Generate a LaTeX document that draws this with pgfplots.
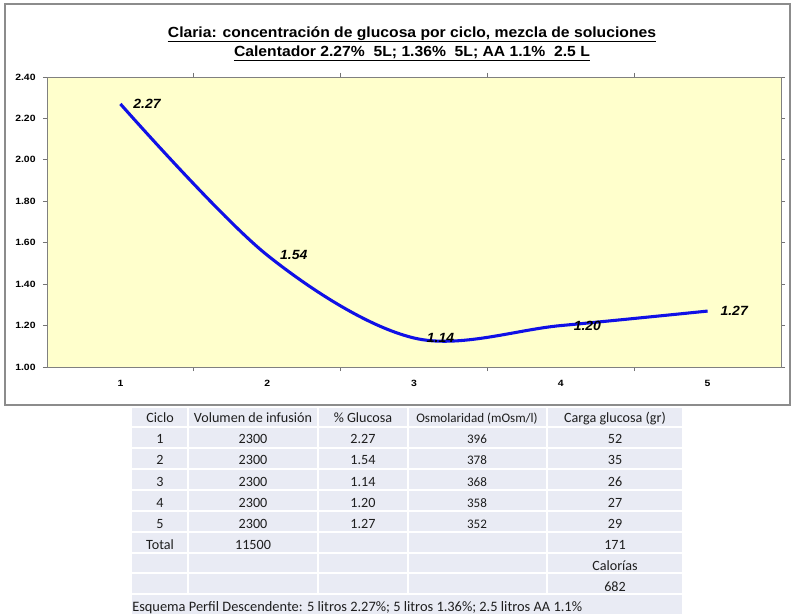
\documentclass[border=0pt]{standalone}
\usepackage{pgfplots}
\pgfplotsset{compat=1.18}
\usepackage{fontspec}
\setmainfont{Liberation Sans}
\newfontfamily\calib{Carlito}
\definecolor{plotbg}{HTML}{FFFFCC}
\definecolor{cellbg}{HTML}{E9EBF4}
\definecolor{lineblue}{HTML}{1010E6}
\definecolor{txt}{HTML}{1E1E1E}
\begin{document}
\begin{tikzpicture}
\begin{scope}[x=0.75pt,y=-0.75pt]
\path[use as bounding box, fill=white] (0,0) rectangle (795,616);
\draw[black!45, line width=0.8pt] (5,4) rectangle (790,405);
\coordinate (ax) at (47,367);
% title
\node[inner sep=0pt, anchor=base, font=\bfseries\fontsize{11}{13}\selectfont, xscale=1.07] (t1) at (412,38) {Claria: concentración de glucosa por ciclo, mezcla de soluciones};
\node[inner sep=0pt, anchor=base, font=\bfseries\fontsize{11}{13}\selectfont, xscale=1.07] (t2) at (412,57) {Calentador 2.27\%\ \ 5L; 1.36\%\ \ 5L; AA 1.1\%\ \ 2.5 L};
\draw[line width=0.7pt] ([yshift=-2.5pt]t1.base west) -- ([yshift=-2.5pt]t1.base east);
\draw[line width=0.7pt] ([yshift=-2.5pt]t2.base west) -- ([yshift=-2.5pt]t2.base east);
\end{scope}
\begin{axis}[
  at={(ax)}, anchor=south west, scale only axis,
  width=550.5pt, height=217.5pt,
  xmin=0.5, xmax=5.5, ymin=1, ymax=2.4,
  ytick={1,1.2,1.4,1.6,1.8,2.0,2.2,2.4},
  xtick={1,2,3,4,5},
  minor xtick={1.5,2.5,3.5,4.5},
  major x tick style={draw=none},
  tick align=outside,
  major tick length=3pt, minor tick length=3pt,
  tick style={black!55, line width=0.6pt},
  axis line style={black!50, line width=0.7pt},
  axis background/.style={fill=plotbg},
  yticklabel style={font=\bfseries\fontsize{6.8}{8}\selectfont, xscale=1.15,
    /pgf/number format/.cd, fixed, fixed zerofill, precision=2, assume math mode=true},
  xticklabel style={font=\bfseries\fontsize{6.8}{8}\selectfont, xscale=1.15,
    /pgf/number format/assume math mode=true},
  xticklabel shift=3.5pt,
  yticklabel shift=1.5pt,
  clip=false,
]
\addplot[lineblue, line width=2.3pt, smooth, tension=0.55,
  nodes near coords,
  every node near coord/.append style={anchor=west, xshift=5pt, black,
    font=\bfseries\itshape\fontsize{10}{12}\selectfont, xscale=1.05,
    /pgf/number format/.cd, fixed, fixed zerofill, precision=2, assume math mode=true},
] coordinates {(1,2.27) (2,1.54) (3,1.14) (4,1.20) (5,1.27)};
\end{axis}
\begin{scope}[x=0.75pt,y=-0.75pt]
% table
\fill[cellbg] (132,408) rectangle (682,614);
\foreach \y in {427,448,469,490,511,532,553,573,594}
  \draw[white, line width=1.4pt] (132,\y) -- (682,\y);
\foreach \x in {188,318,408,547}
  \draw[white, line width=1.4pt] (\x,408) -- (\x,594);
\begin{scope}[every node/.style={anchor=base, inner sep=0pt, text=txt, font=\calib\fontsize{10.6}{12}\selectfont}]
\node at (160,422.5) {Ciclo};
\node at (253,422.5) {Volumen de infusión};
\node at (363,422.5) {\% Glucosa};
\node[font=\calib\fontsize{9.8}{12}\selectfont] at (477,422.5) {Osmolaridad (mOsm/l)};
\node at (615,422.5) {Carga glucosa (gr)};
\foreach \c/\v/\g/\o/\k [count=\i] in {1/2300/2.27/396/52, 2/2300/1.54/378/35, 3/2300/1.14/368/26, 4/2300/1.20/358/27, 5/2300/1.27/352/29}{
  \pgfmathsetmacro{\yy}{422.5+21.2*\i}
  \node at (160,\yy) {\c};
  \node at (253,\yy) {\v};
  \node at (363,\yy) {\g};
  \node[font=\calib\fontsize{9.8}{12}\selectfont] at (477,\yy) {\o};
  \node at (615,\yy) {\k};
}
\node at (160,549.5) {Total};
\node at (253,549.5) {11500};
\node at (615,549.5) {171};
\node at (615,570.5) {Calorías};
\node at (615,591.5) {682};
\node[anchor=base west, font=\calib\fontsize{10.8}{12}\selectfont] at (132,611.5) {Esquema Perfil Descendente: 5 litros 2.27\%; 5 litros 1.36\%; 2.5 litros AA 1.1\%};
\end{scope}
\end{scope}
\end{tikzpicture}
\end{document}
